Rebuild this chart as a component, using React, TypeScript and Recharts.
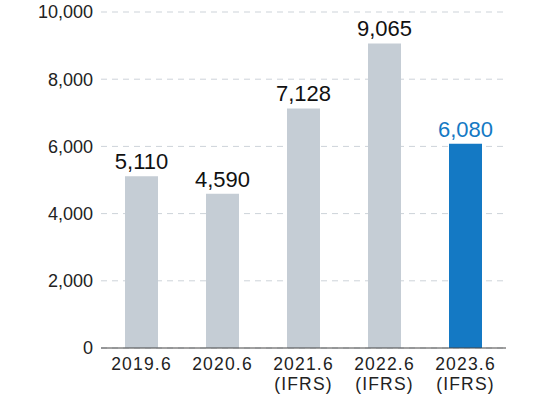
import React from 'react';
import { BarChart, Bar, XAxis, YAxis, CartesianGrid, Cell, LabelList } from 'recharts';

const periods = ['2019.6', '2020.6', '2021.6', '2022.6', '2023.6'];
const notes = ['', '', '(IFRS)', '(IFRS)', '(IFRS)'];
const values = [5110, 4590, 7128, 9065, 6080];
const yTicks = [0, 2000, 4000, 6000, 8000, 10000];

const GRAY = '#C5CDD5';
const BLUE = '#1479C4';
const FONT = '"Liberation Sans", Arial, sans-serif';

const data = periods.map((p, i) => ({ period: p, note: notes[i], value: values[i] }));

const PeriodTick = ({ x, y, payload, index }: any) => {
    const note = notes[index];
    return (
        <g transform={`translate(${x},${y})`}>
            <text x={0} y={0} dy={14} textAnchor="middle" fill="#222" fontSize={17.5} letterSpacing={1.2} fontFamily={FONT}>
                {payload.value}
            </text>
            {note && (
                <text x={0} y={20} dy={14} textAnchor="middle" fill="#222" fontSize={17.5} letterSpacing={1.2} fontFamily={FONT}>
                    {note}
                </text>
            )}
        </g>
    );
};

const ValueLabel = ({ x, y, width, value, index }: any) => (
    <text
        x={x + width / 2}
        y={y - 7}
        textAnchor="middle"
        fill={index === values.length - 1 ? BLUE : '#111'}
        fontSize={22}
        fontFamily={FONT}
    >
        {value.toLocaleString('en-US')}
    </text>
);

export default function App() {
    return (
        <div style={{ position: 'absolute', left: 0, top: 0 }}>
            <BarChart
                width={543}
                height={394}
                data={data}
                margin={{ top: 12, right: 37, bottom: 0, left: 0 }}
                barSize={33}
            >
                <CartesianGrid vertical={false} stroke="#CDD3D9" strokeDasharray="6 5" />
                <XAxis
                    dataKey="period"
                    tick={<PeriodTick />}
                    tickLine={false}
                    axisLine={{ stroke: '#444' }}
                    height={46}
                    interval={0}
                />
                <YAxis
                    width={101}
                    domain={[0, 10000]}
                    ticks={yTicks}
                    tickFormatter={(v) => v.toLocaleString('en-US')}
                    tick={{ fill: '#222', fontSize: 18, fontFamily: FONT }}
                    tickLine={false}
                    axisLine={false}
                    tickMargin={2}
                />
                <Bar dataKey="value" isAnimationActive={false}>
                    {data.map((d, i) => (
                        <Cell key={`cell-${i}`} fill={i === data.length - 1 ? BLUE : GRAY} />
                    ))}
                    <LabelList dataKey="value" content={<ValueLabel />} />
                </Bar>
            </BarChart>
        </div>
    );
}
